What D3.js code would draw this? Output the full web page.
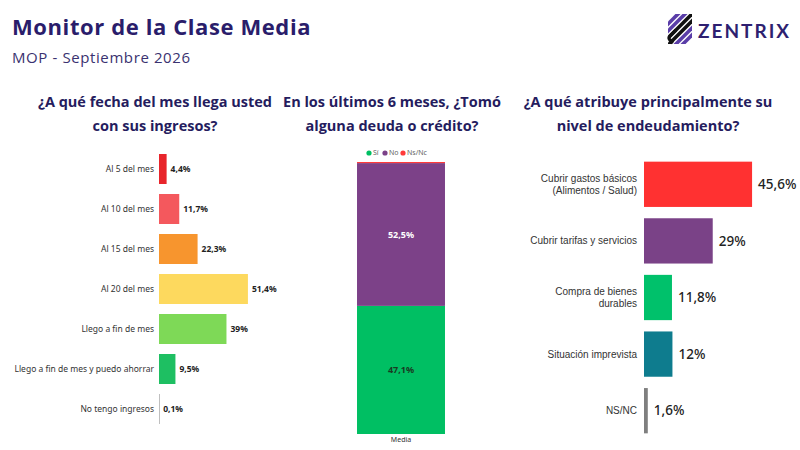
<!DOCTYPE html>
<html>
<head>
<meta charset="utf-8">
<script src="https://cdn.jsdelivr.net/npm/d3@7"></script>
<style>
  body { margin: 0; background: #fff; }
  svg { display: block; }
  .title { font-family: "Open Sans", sans-serif; font-weight: 700; fill: #2a1d6b; }
  .sub { font-family: "Open Sans", sans-serif; fill: #3a3270; }
  .qtitle { font-family: "Open Sans", sans-serif; font-weight: 700; fill: #251c5e; font-size: 14.5px; }
  .lbl { font-family: "Noto Sans", sans-serif; fill: #333; }
</style>
</head>
<body>
<svg width="800" height="450"></svg>
<script>
// ingreso: a qué fecha del mes llega
const fechaCats = ['Al 5 del mes', 'Al 10 del mes', 'Al 15 del mes', 'Al 20 del mes',
  'Llego a fin de mes', 'Llego a fin de mes y puedo ahorrar', 'No tengo ingresos']
const fechaVals = [4.4, 11.7, 22.3, 51.4, 39, 9.5, 0.1]
const fechaColors = ['#e8252b', '#f4585d', '#f7952e', '#fdd95e', '#7ed957', '#1ebf62', '#bfbfbf']

// deuda o crédito
const deudaKeys = ['Sí', 'No', 'Ns/Nc']
const deudaVals = [47.1, 52.5, 0.4]
const deudaColors = ['#00bf63', '#7c4188', '#ff3a3a']
const deudaCat = 'Media'

// endeudamiento
const causaCats = [['Cubrir gastos básicos', '(Alimentos / Salud)'], ['Cubrir tarifas y servicios'],
  ['Compra de bienes', 'durables'], ['Situación imprevista'], ['NS/NC']]
const causaVals = [45.6, 29, 11.8, 12, 1.6]
const causaLabels = ['45,6%', '29%', '11,8%', '12%', '1,6%']
const causaColors = ['#ff3131', '#7a4287', '#00c16b', '#0e7c8e', '#7f7f7f']

const fmt = v => String(v).replace('.', ',') + '%'

const svg = d3.select('svg')

// header
svg.append('text').attr('class', 'title').attr('x', 12).attr('y', 35)
  .attr('font-size', 22).attr('letter-spacing', 0.6).text('Monitor de la Clase Media')
svg.append('text').attr('class', 'sub').attr('x', 12).attr('y', 63)
  .attr('font-size', 15).attr('letter-spacing', 0.6).text('MOP - Septiembre 2026')

// logo: diagonal stripes
svg.append('clipPath').attr('id', 'logoclip')
  .append('rect').attr('x', 668).attr('y', 14).attr('width', 24).attr('height', 30)
const logo = svg.append('g').attr('clip-path', 'url(#logoclip)')
const stripes = [[692, '#5a3da8'], [699, '#5a3da8'], [706, '#111'], [713, '#111'], [720, '#5a3da8'], [727, '#5a3da8']]
stripes.forEach(([c, col]) => {
  logo.append('line')
    .attr('x1', 660).attr('y1', c - 660).attr('x2', 700).attr('y2', c - 700)
    .attr('stroke', col).attr('stroke-width', 3.6)
})
svg.append('path').attr('d', 'M676,30 L670,36 Q668,38 670,40 L673,43')
  .attr('fill', 'none').attr('stroke', '#111').attr('stroke-width', 3.2)
svg.append('text').attr('x', 698).attr('y', 38)
  .attr('font-family', 'Lato, sans-serif').attr('font-size', 19).attr('font-weight', 700)
  .attr('letter-spacing', 2).attr('fill', '#2e1f70').text('ZENTRIX')

function qtitle(cx, lines) {
  const t = svg.append('text').attr('class', 'qtitle').attr('text-anchor', 'middle')
  lines.forEach((l, i) => t.append('tspan').attr('x', cx).attr('y', 107 + i * 24).text(l))
}
qtitle(155, ['¿A qué fecha del mes llega usted', 'con sus ingresos?'])
qtitle(392, ['En los últimos 6 meses, ¿Tomó', 'alguna deuda o crédito?'])
qtitle(648, ['¿A qué atribuye principalmente su', 'nivel de endeudamiento?'])

// --- left chart
const x1 = d3.scaleLinear().domain([0, 100]).range([159, 159 + 173])
const y1 = d3.scaleBand().domain(fechaCats).range([149, 429]).paddingInner(0.25).paddingOuter(0.125)

const g1 = svg.append('g')
g1.selectAll('rect').data(fechaCats).enter().append('rect')
  .attr('x', x1(0))
  .attr('y', d => y1(d))
  .attr('width', (d, i) => Math.max(1, x1(fechaVals[i]) - x1(0)))
  .attr('height', y1.bandwidth())
  .attr('fill', (d, i) => fechaColors[i])
g1.selectAll('.cat').data(fechaCats).enter().append('text')
  .attr('class', 'lbl').attr('x', 154).attr('y', d => y1(d) + y1.bandwidth() / 2)
  .attr('dy', '0.35em').attr('text-anchor', 'end').attr('font-size', 8.5)
  .text(d => d)
g1.selectAll('.val').data(fechaVals).enter().append('text')
  .attr('x', v => x1(v) + 4).attr('y', (v, i) => y1(fechaCats[i]) + y1.bandwidth() / 2)
  .attr('dy', '0.35em').attr('font-family', 'Noto Sans, sans-serif').attr('font-weight', 700)
  .attr('font-size', 8.5).attr('fill', '#222')
  .text(fmt)

// --- middle chart
const y2 = d3.scaleLinear().domain([0, 100]).range([434, 162])
const x2 = d3.scaleBand().domain([deudaCat]).range([339, 463]).padding(0.17)
const stackRow = {}
deudaKeys.forEach((k, i) => stackRow[k] = deudaVals[i])
const stacked = d3.stack().keys(deudaKeys)([stackRow])

const g2 = svg.append('g')
g2.selectAll('rect').data(stacked).enter().append('rect')
  .attr('x', x2(deudaCat))
  .attr('width', x2.bandwidth())
  .attr('y', d => y2(d[0][1]))
  .attr('height', d => y2(d[0][0]) - y2(d[0][1]))
  .attr('fill', (d, i) => deudaColors[i])
g2.selectAll('.val').data(stacked.slice(0, 2)).enter().append('text')
  .attr('x', x2(deudaCat) + x2.bandwidth() / 2)
  .attr('y', d => y2((d[0][0] + d[0][1]) / 2))
  .attr('dy', '0.35em').attr('text-anchor', 'middle')
  .attr('font-family', 'Noto Sans, sans-serif').attr('font-size', 9)
  .attr('font-weight', 700)
  .attr('fill', (d, i) => i === 1 ? '#fff' : '#1a3a22')
  .text((d, i) => fmt(deudaVals[i]))
g2.append('text').attr('class', 'lbl')
  .attr('x', x2(deudaCat) + x2.bandwidth() / 2).attr('y', 442)
  .attr('text-anchor', 'middle').attr('font-size', 7).attr('fill', '#555').text(deudaCat)

// legend
const legX = [366, 382, 400]
const leg = g2.selectAll('.leg').data(deudaKeys).enter().append('g')
  .attr('transform', (d, i) => `translate(${legX[i]}, 153)`)
leg.append('circle').attr('r', 2.6).attr('cx', 3).attr('fill', (d, i) => deudaColors[i])
leg.append('text').attr('x', 7).attr('dy', '0.35em')
  .attr('font-family', 'Noto Sans, sans-serif').attr('font-size', 7).attr('fill', '#666')
  .text(d => d)

// --- right chart
const x3 = d3.scaleLinear().domain([0, 100]).range([644, 644 + 237])
const y3 = d3.scaleBand().domain(d3.range(causaVals.length)).range([156, 439]).paddingInner(0.2).paddingOuter(0.1)

const g3 = svg.append('g')
g3.selectAll('rect').data(causaVals).enter().append('rect')
  .attr('x', x3(0))
  .attr('y', (v, i) => y3(i))
  .attr('width', v => x3(v) - x3(0))
  .attr('height', y3.bandwidth())
  .attr('fill', (v, i) => causaColors[i])
// multi-line labels: one text per line
const lineH = 11.5
causaCats.forEach((lines, i) => {
  const cy = y3(i) + y3.bandwidth() / 2 - (lines.length - 1) * lineH / 2
  lines.forEach((l, j) => {
    g3.append('text').attr('text-anchor', 'end').attr('font-size', 10)
      .attr('font-family', 'Liberation Sans, sans-serif').attr('fill', '#333')
      .attr('x', 637).attr('y', cy + j * lineH).attr('dy', '0.35em').text(l)
  })
})
g3.selectAll('.val').data(causaVals).enter().append('text')
  .attr('x', v => x3(v) + 6).attr('y', (v, i) => y3(i) + y3.bandwidth() / 2)
  .attr('dy', '0.35em').attr('font-family', 'Noto Sans, sans-serif')
  .attr('font-size', 13.5).attr('font-weight', 500).attr('fill', '#222')
  .text((v, i) => causaLabels[i])
</script>
</body>
</html>
